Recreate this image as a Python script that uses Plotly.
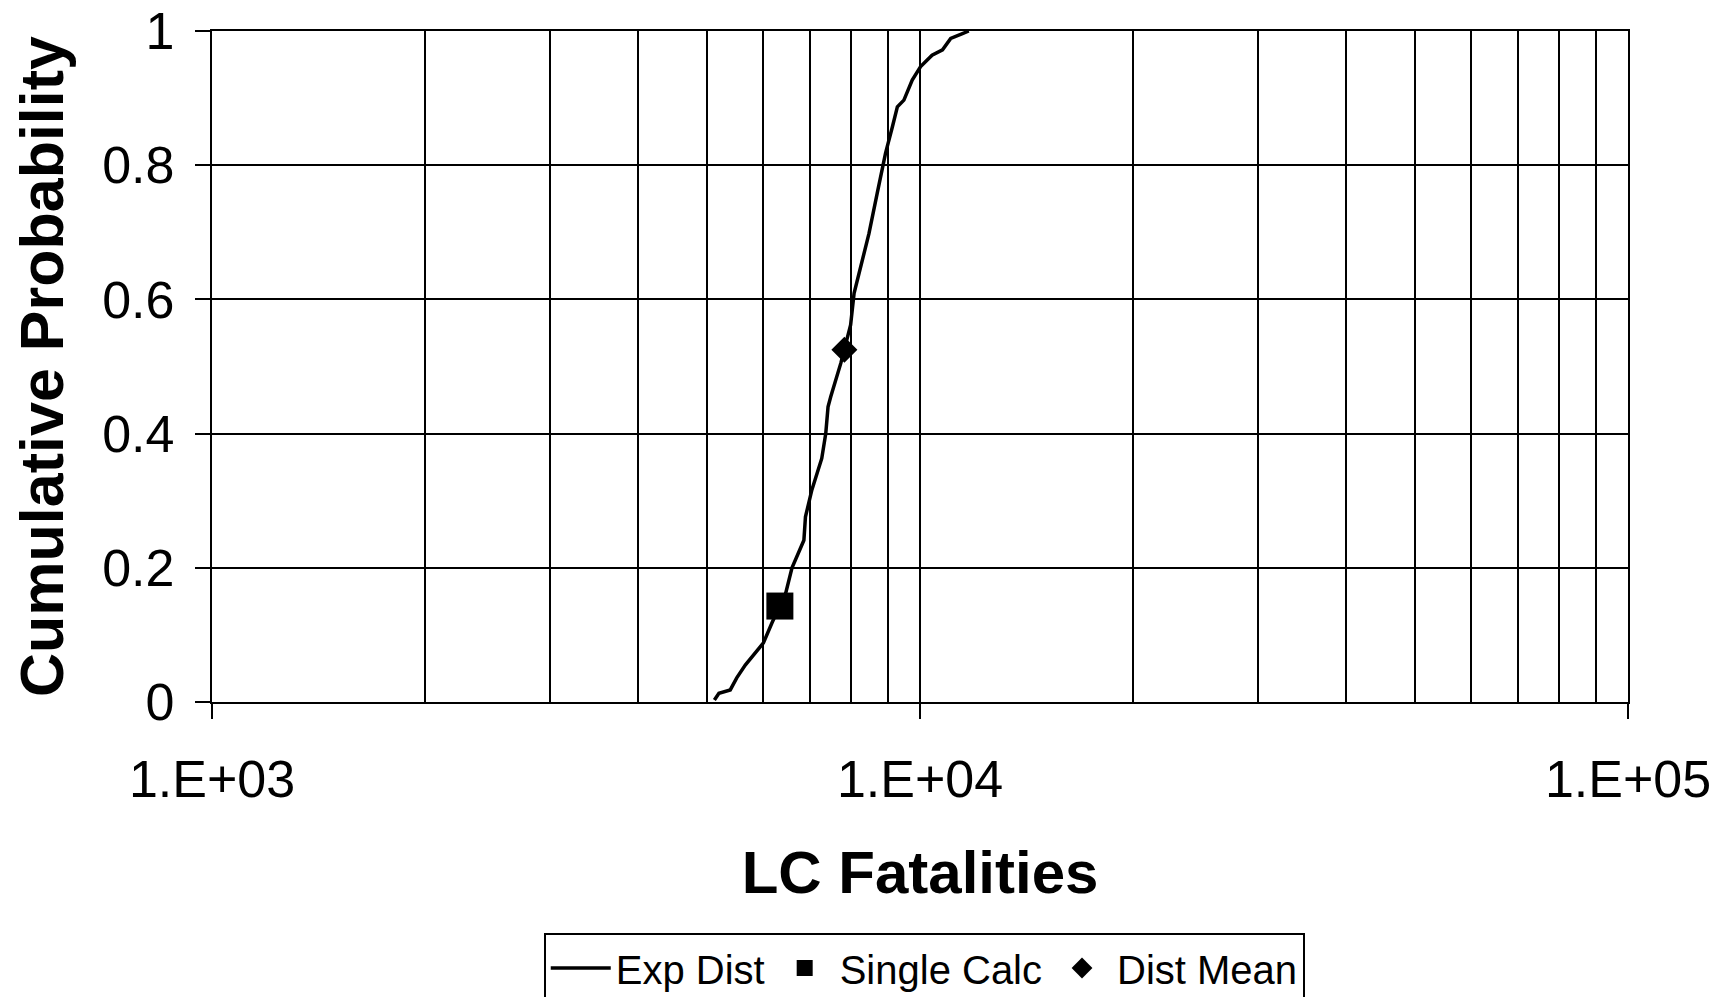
import plotly.graph_objects as go

exp_x = [5124, 5200, 5395, 5510, 5665, 6010, 6180, 6340, 6460, 6595, 6855, 6890,
         7035, 7265, 7360, 7415, 7480, 7730, 7820, 7980, 8070, 8285, 8470, 8700,
         8940, 9140, 9290, 9490, 9750, 10020, 10400, 10760, 11050, 11480, 11720]
exp_y = [0.003, 0.013, 0.018, 0.036, 0.055, 0.088, 0.118, 0.142, 0.162, 0.200, 0.241, 0.276,
         0.316, 0.363, 0.400, 0.440, 0.455, 0.505, 0.526, 0.562, 0.609, 0.659, 0.698, 0.758,
         0.818, 0.857, 0.887, 0.897, 0.927, 0.947, 0.964, 0.972, 0.989, 0.996, 1.000]

single_x = [6340]
single_y = [0.143]
mean_x = [7820]
mean_y = [0.525]

x_tickvals = [1e3, 1e4, 1e5]
x_ticktext = ["1.E+03", "1.E+04", "1.E+05"]
y_tickvals = [0, 0.2, 0.4, 0.6, 0.8, 1]
y_ticktext = ["0", "0.2", "0.4", "0.6", "0.8", "1"]

FONT = "Liberation Sans, Arial, sans-serif"

fig = go.Figure()
fig.add_trace(go.Scatter(x=exp_x, y=exp_y, mode="lines", name="Exp Dist",
                         line=dict(color="black", width=3.5)))
fig.add_trace(go.Scatter(x=single_x, y=single_y, mode="markers", name="Single Calc",
                         marker=dict(symbol="square", size=27, color="black")))
fig.add_trace(go.Scatter(x=mean_x, y=mean_y, mode="markers", name="Dist Mean",
                         marker=dict(symbol="diamond", size=20, color="black")))

fig.update_layout(
    width=1720, height=997,
    margin=dict(l=212, r=92, t=31, b=295, autoexpand=False),
    paper_bgcolor="white", plot_bgcolor="white",
    font=dict(family=FONT, color="black"),
    showlegend=True,
    legend=dict(orientation="h", x=0.503, xanchor="center", y=-0.345, yanchor="top",
                bordercolor="black", borderwidth=2, bgcolor="white",
                font=dict(size=40, family=FONT), itemwidth=60),
)
fig.update_xaxes(
    type="log", range=[3, 5], automargin=False,
    tickvals=x_tickvals, ticktext=x_ticktext,
    tickfont=dict(size=52, family=FONT),
    ticks="outside", ticklen=15, tickwidth=2, tickcolor="black",
    ticklabelstandoff=15, ticklabeloverflow="allow",
    showgrid=True, gridcolor="black", gridwidth=1.8,
    minor=dict(dtick="D1", showgrid=True, gridcolor="black", gridwidth=1.8, ticks=""),
    showline=True, linecolor="black", linewidth=2.2, mirror=True,
    zeroline=False,
    title=dict(text="<b>LC Fatalities</b>", font=dict(size=60, family=FONT), standoff=44),
)
fig.update_yaxes(
    range=[0, 1], automargin=False,
    tickvals=y_tickvals, ticktext=y_ticktext,
    tickfont=dict(size=52, family=FONT),
    ticks="outside", ticklen=15, tickwidth=2, tickcolor="black",
    ticklabelstandoff=10, ticklabeloverflow="allow",
    showgrid=True, gridcolor="black", gridwidth=1.8,
    showline=True, linecolor="black", linewidth=2.2, mirror=True,
    zeroline=False,
    title=dict(text="<b>Cumulative Probability</b>", font=dict(size=61, family=FONT), standoff=19),
)

# remove the browser's default 8px body margin so the figure fills the window exactly
fig.write_html("out.html",
               config={"displayModeBar": False},
               post_script="document.body.style.margin='0';document.body.style.overflow='hidden';")
